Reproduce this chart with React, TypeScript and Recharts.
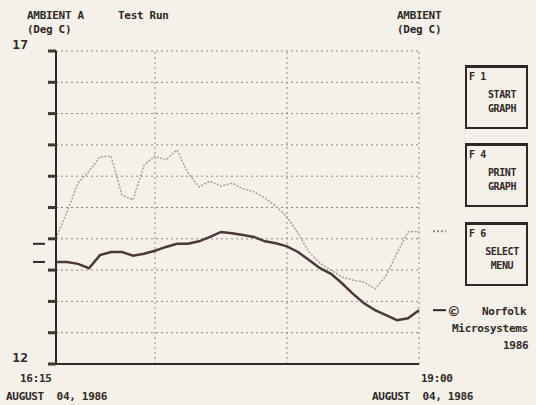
import { LineChart, Line, XAxis, YAxis, CartesianGrid, ReferenceLine } from 'recharts';

// minutes after 16:15
const minutes = [0, 5, 10, 15, 20, 25, 30, 35, 40, 45, 50, 55, 60, 65, 70, 75, 80, 85, 90, 95, 100, 105, 110, 115, 120, 125, 130, 135, 140, 145, 150, 155, 160, 165];

const ambientA = [14.01, 14.43, 14.89, 15.08, 15.31, 15.32, 14.7, 14.62, 15.18, 15.32, 15.26, 15.42, 15.05, 14.83, 14.92, 14.84, 14.89, 14.8, 14.75, 14.65, 14.52, 14.35, 14.09, 13.79, 13.61, 13.5, 13.39, 13.34, 13.31, 13.2, 13.41, 13.77, 14.11, 14.12];

const ambient = [13.63, 13.63, 13.6, 13.53, 13.74, 13.79, 13.79, 13.73, 13.76, 13.81, 13.87, 13.92, 13.92, 13.96, 14.03, 14.11, 14.09, 14.06, 14.03, 13.96, 13.93, 13.88, 13.79, 13.66, 13.53, 13.44, 13.29, 13.12, 12.97, 12.86, 12.78, 12.7, 12.73, 12.86];

const yTicks = [12, 12.5, 13, 13.5, 14, 14.5, 15, 15.5, 16, 16.5, 17];
const xTicks = [5, 15, 25, 35, 45, 55, 65, 75, 85, 95, 105, 115, 125, 135, 145, 155, 165];
const hourLines = [45, 105, 165];
const leftMarks = [13.92, 13.63];

const data = minutes.map((m, i) => ({ t: m, a: ambientA[i], b: ambient[i] }));

const ink = '#2f2926';
const font = '"DejaVu Sans Mono", monospace';

const txt = (left: number, top: number, s: string, extra: any = {}) => (
  <div style={{ position: 'absolute', left, top, fontFamily: font, fontWeight: 700, fontSize: 11, color: ink, lineHeight: '12px', whiteSpace: 'pre', letterSpacing: -0.3, ...extra }}>
    {s}
  </div>
);

const FKey = ({ top, k, l1, l2 }: { top: number; k: string; l1: string; l2: string }) => (
  <div style={{ position: 'absolute', left: 465, top, width: 63, height: 64, border: `2px solid ${ink}`, borderTopWidth: 3, boxSizing: 'border-box', fontFamily: font, fontWeight: 700, fontSize: 10, color: ink, letterSpacing: -0.4 }}>
    <div style={{ position: 'absolute', left: 2, top: 3, lineHeight: '12px', whiteSpace: 'pre' }}>{k}</div>
    <div style={{ position: 'absolute', left: 14, width: 42, top: 20, lineHeight: '14px', textAlign: 'center' }}>
      {l1}
      <br />
      {l2}
    </div>
  </div>
);

const LeftTick = (props: any) => {
  const { x, y, payload } = props;
  if (payload.value !== 12 && payload.value !== 17) return null;
  return (
    <text x={x - 18} y={y - 2} textAnchor="end" fontFamily={font} fontWeight={700} fontSize={13} fill={ink}>
      {payload.value}
    </text>
  );
};

const RightTick = (props: any) => {
  const { x, y, payload } = props;
  if (payload.value !== 12 && payload.value !== 17) return null;
  return (
    <text x={x + 12} y={y - 2} textAnchor="start" fontFamily={font} fontWeight={700} fontSize={13} fill={ink}>
      {payload.value}
    </text>
  );
};

export default function App() {
  return (
    <div style={{ position: 'relative', width: 536, height: 405, background: '#f6f0ea', overflow: 'hidden' }}>
      <style>{`body{margin:0}`}</style>
      <LineChart width={536} height={405} data={data} margin={{ top: 51, left: 0, right: 0, bottom: 0 }}>
        <CartesianGrid vertical={false} stroke="#8e8882" strokeDasharray="2 3" yAxisId="left" />
        <XAxis
          dataKey="t"
          type="number"
          domain={[0, 165]}
          ticks={xTicks}
          tick={false}
          tickSize={4}
          height={41}
          axisLine={{ stroke: ink, strokeWidth: 2 }}
          tickLine={{ stroke: ink, strokeWidth: 1.5 }}
        />
        <YAxis
          yAxisId="left"
          domain={[12, 17]}
          ticks={yTicks}
          width={56}
          tickSize={8}
          tick={<LeftTick />}
          axisLine={{ stroke: ink, strokeWidth: 2 }}
          tickLine={{ stroke: '#3c3a30', strokeWidth: 3 }}
        />
        <YAxis
          yAxisId="right"
          orientation="right"
          domain={[12, 17]}
          ticks={yTicks}
          width={117}
          tickSize={8}
          tick={<RightTick />}
          axisLine={false}
          tickLine={{ stroke: '#3c3a30', strokeWidth: 3 }}
        />
        {hourLines.map((h) => (
          <ReferenceLine key={h} x={h} yAxisId="left" stroke="#8e8882" strokeDasharray="2 3" />
        ))}
        {leftMarks.map((v) => (
          <ReferenceLine
            key={v}
            y={v}
            yAxisId="left"
            shape={(p: any) => <line x1={p.x1 - 23} x2={p.x1 - 11} y1={p.y1} y2={p.y1} stroke={ink} strokeWidth={2} />}
          />
        ))}
        <ReferenceLine
          y={ambientA[ambientA.length - 1]}
          yAxisId="left"
          shape={(p: any) => <line x1={p.x2 + 14} x2={p.x2 + 27} y1={p.y1} y2={p.y1} stroke="#8e847c" strokeWidth={2} strokeDasharray="2 2" />}
        />
        <ReferenceLine
          y={ambient[ambient.length - 1]}
          yAxisId="left"
          shape={(p: any) => <line x1={p.x2 + 14} x2={p.x2 + 27} y1={p.y1} y2={p.y1} stroke={ink} strokeWidth={2} />}
        />
        <Line yAxisId="left" dataKey="a" type="linear" stroke="#aa9e96" strokeWidth={1.5} strokeDasharray="2 1.5" dot={false} isAnimationActive={false} />
        <Line yAxisId="left" dataKey="b" type="linear" stroke="#4b3b34" strokeWidth={2.5} dot={false} isAnimationActive={false} />
      </LineChart>

      {txt(27, 10, 'AMBIENT A')}
      {txt(27, 24, '(Deg C)')}
      {txt(118, 10, 'Test Run')}
      {txt(397, 10, 'AMBIENT')}
      {txt(397, 24, '(Deg C)')}

      {txt(20, 373, '16:15')}
      {txt(6, 391, 'AUGUST  04, 1986')}
      {txt(421, 373, '19:00')}
      {txt(372, 391, 'AUGUST  04, 1986')}

      <FKey top={65} k="F 1" l1="START" l2="GRAPH" />
      <FKey top={143} k="F 4" l1="PRINT" l2="GRAPH" />
      <FKey top={222} k="F 6" l1="SELECT" l2="MENU" />

      {txt(449, 304, '©', { fontSize: 16, lineHeight: '16px' })}
      {txt(482, 306, 'Norfolk')}
      {txt(452, 323, 'Microsystems')}
      {txt(503, 340, '1986')}
    </div>
  );
}
